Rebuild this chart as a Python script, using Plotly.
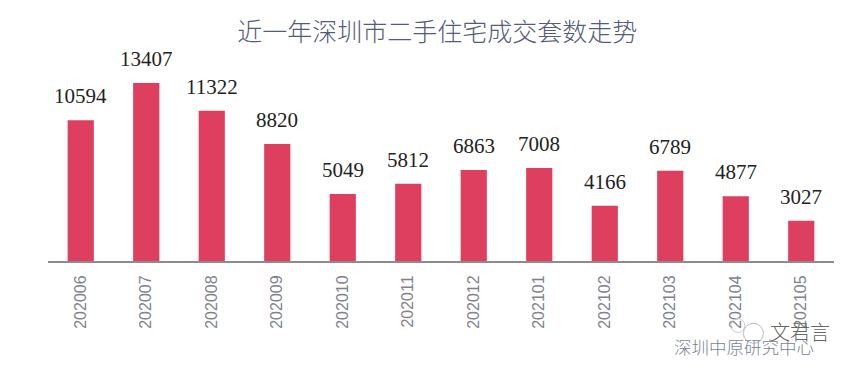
import plotly.graph_objects as go

months = ["202006","202007","202008","202009","202010","202011","202012","202101","202102","202103","202104","202105"]
deals = [10594,13407,11322,8820,5049,5812,6863,7008,4166,6789,4877,3027]
title_text = "近一年深圳市二手住宅成交套数走势"
source_text = "深圳中原研究中心"
mark_text = "文君言"

fig = go.Figure(go.Bar(x=months, y=deals, width=0.4, marker=dict(color="#DF3F5F", line_width=0)))

value_labels = [
    dict(x=i, y=v, text=str(v), xref="x", yref="y", showarrow=False, xanchor="center", yanchor="bottom",
         yshift=10, font=dict(family="Liberation Serif", size=21, color="#222222"))
    for i, v in enumerate(deals)
]
notes = [
    dict(text=source_text, xref="paper", yref="paper", x=0.977, y=-0.368, xanchor="right", yanchor="middle",
         showarrow=False, font=dict(family="Noto Sans CJK SC", size=17.5, color="#7A8496", weight=300)),
    dict(text=mark_text, xref="paper", yref="paper", x=0.9975, y=-0.307, xanchor="right", yanchor="middle",
         showarrow=False, font=dict(family="Noto Sans CJK SC", size=20, color="#666666", weight=300)),
]
fig.update_layout(
    width=860, height=369, autosize=False,
    margin=dict(l=40, r=34, t=22, b=116),
    paper_bgcolor="white", plot_bgcolor="white", showlegend=False,
    title=dict(text=title_text, x=0.499, xanchor="center", y=0.935, yanchor="middle",
               font=dict(family="Noto Sans CJK SC", size=25, color="#555B78", weight=300)),
    xaxis=dict(type="category", categoryorder="array", categoryarray=months, range=[-0.5, 11.5],
               tickangle=-90, showgrid=False, ticks="", ticklabelstandoff=6,
               showline=True, linecolor="#8C8C8C", linewidth=2,
               tickfont=dict(family="Liberation Sans", size=16, color="#7F828C")),
    yaxis=dict(range=[0, 17400], visible=False, fixedrange=True),
    annotations=value_labels + notes,
    shapes=[
        dict(type="circle", xref="paper", yref="paper", xsizemode="pixel", ysizemode="pixel",
             xanchor=0.8975, yanchor=-0.313, x0=-10, x1=10, y0=-10, y1=10,
             line=dict(color="#BBBBBB", width=1)),
        dict(type="circle", xref="paper", yref="paper", xsizemode="pixel", ysizemode="pixel",
             xanchor=0.8775, yanchor=-0.279, x0=-7, x1=7, y0=-7, y1=7,
             line=dict(color="#CCCCCC", width=1)),
    ],
)
fig.write_html("out.html")
